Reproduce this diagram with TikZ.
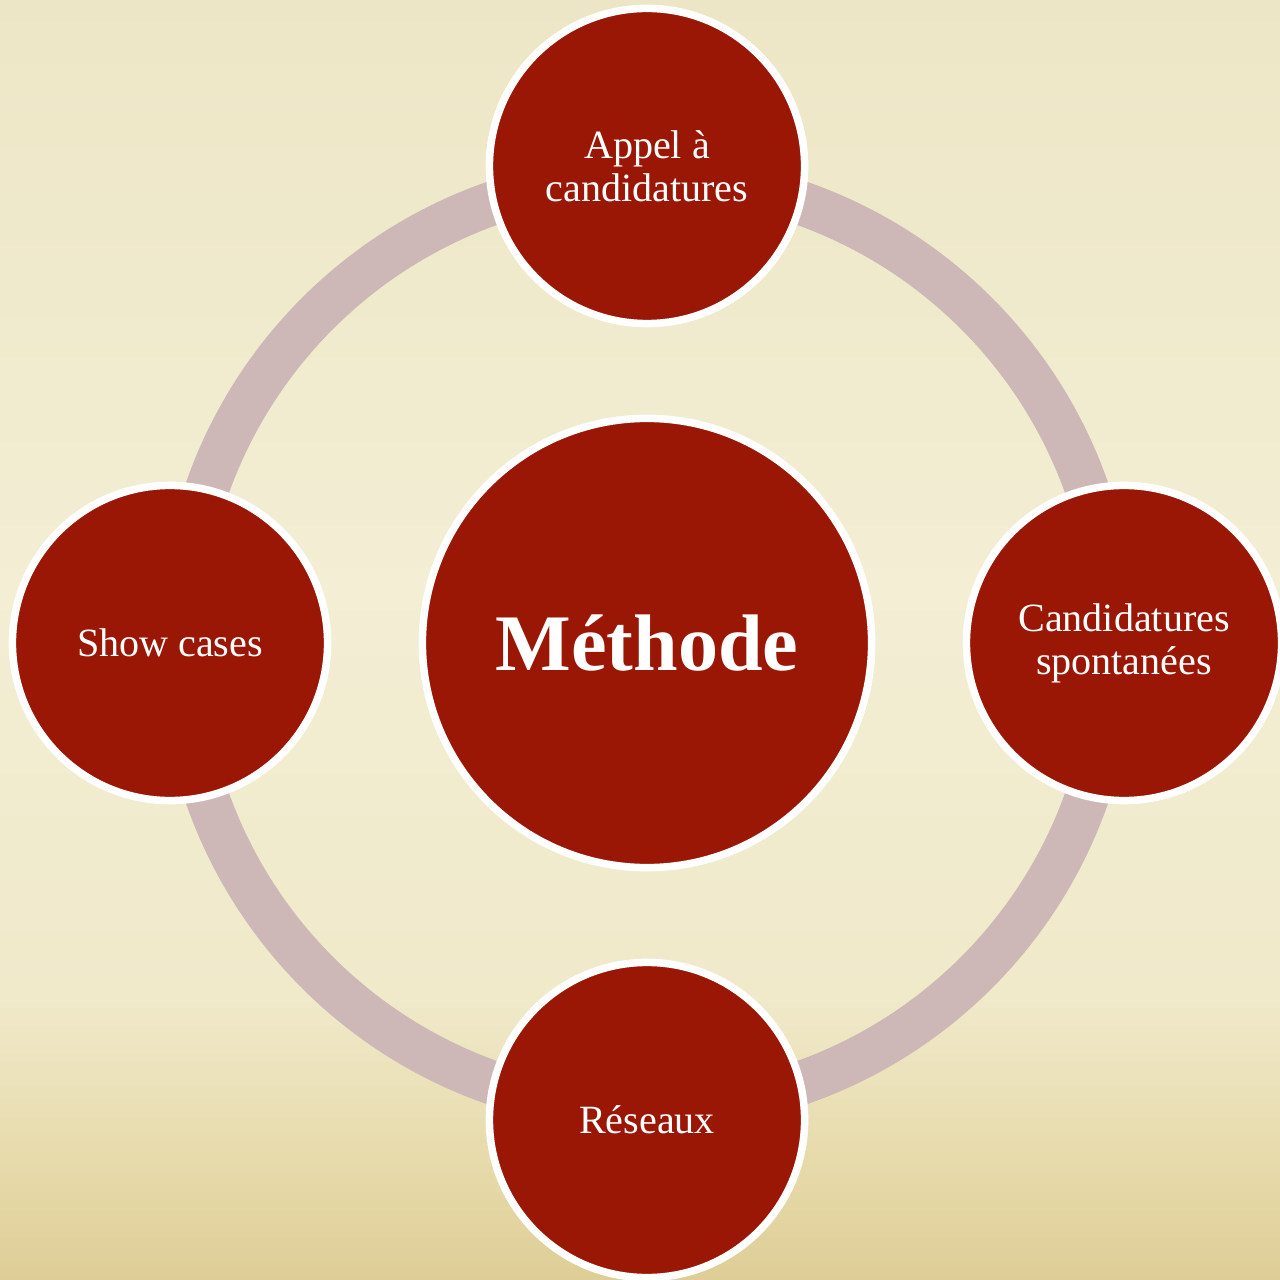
\documentclass[tikz,border=0pt]{standalone}
\usepackage{fontspec}
\setmainfont{Liberation Serif}

% palette
\definecolor{parchtop}{RGB}{237,230,198}
\definecolor{parchlight}{RGB}{243,238,212}
\definecolor{parchmid}{RGB}{240,233,202}
\definecolor{parchbottom}{RGB}{230,217,168}
\definecolor{parchlow}{RGB}{222,205,150}
\definecolor{ringgrey}{RGB}{205,184,183}
\definecolor{deepred}{RGB}{155,23,5}

% paper background, darker towards the foot of the page
% (TikZ maps the path onto the 25bp--75bp band of the shading)
\pgfdeclareverticalshading{parchment}{100bp}{%
  color(0bp)=(parchlow); color(25bp)=(parchlow); color(29bp)=(parchbottom);
  color(36bp)=(parchmid); color(52bp)=(parchlight); color(75bp)=(parchtop);
  color(100bp)=(parchtop)}

\tikzset{
  ring/.style={draw=ringgrey, line width=0.44cm},
  bubble/.style={circle, draw=white, line width=0.075cm, fill=deepred,
    text=white, align=center, inner sep=0pt, minimum size=3.15cm,
    font=\fontsize{11.4pt}{12.2pt}\selectfont},
  hubble/.style={bubble, minimum size=4.49cm,
    font=\fontsize{22.8pt}{24pt}\selectfont\bfseries}
}

\begin{document}
\begin{tikzpicture}[x=0.01cm, y=-0.01cm]
  \shade[shading=parchment] (0,0) rectangle (1280,1280);
  \useasboundingbox (0,0) rectangle (1280,1280);

  % centre of the cycle
  \coordinate (c) at (647,643);

  % grey ring joining the four satellites
  \draw[ring] (c) circle[radius=466];

  \node[hubble] (hub) at (c) {Méthode};
  \node[bubble] (top)    at (647,166)  {Appel à\\candidatures};
  \node[bubble] (right)  at (1124,643) {Candidatures\\spontanées};
  \node[bubble] (bottom) at (647,1120) {Réseaux};
  \node[bubble] (left)   at (170,643)  {Show cases};
\end{tikzpicture}
\end{document}
